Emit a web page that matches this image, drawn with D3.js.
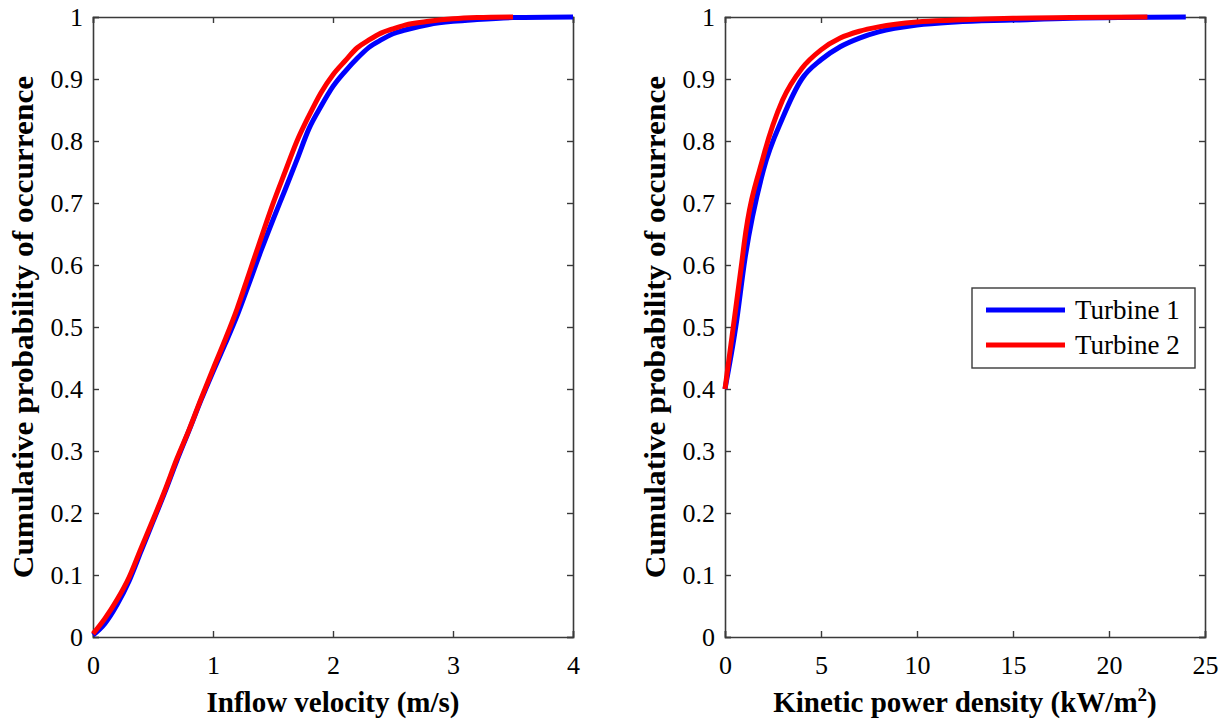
<!DOCTYPE html>
<html>
<head>
<meta charset="utf-8">
<script src="https://cdn.jsdelivr.net/npm/d3@7"></script>
<style>
  html, body { margin: 0; padding: 0; background: #fff; }
  svg { display: block; }
  text { font-family: "Liberation Serif", "Times New Roman", serif; fill: #000; }
</style>
</head>
<body>
<svg id="chart" width="1229" height="722"></svg>
<script>
// ---------- DATA ----------
const seriesNames = ["Turbine 1", "Turbine 2"];
const seriesColors = ["#0000ff", "#ff0000"];

// Left panel: inflow velocity (m/s) vs cumulative probability
const velT1 = [0, 0.1, 0.2, 0.3, 0.4, 0.5, 0.6, 0.7, 0.8, 0.9, 1.0, 1.1, 1.2, 1.3, 1.4, 1.5, 1.6, 1.7, 1.8, 1.9, 2.0, 2.1, 2.2, 2.3, 2.4, 2.5, 2.6, 2.8, 3.0, 3.2, 3.5, 4.0];
const cdfVelT1 = [0.003, 0.022, 0.052, 0.09, 0.138, 0.186, 0.234, 0.285, 0.333, 0.382, 0.428, 0.472, 0.518, 0.57, 0.623, 0.673, 0.721, 0.77, 0.82, 0.856, 0.888, 0.912, 0.933, 0.951, 0.963, 0.973, 0.979, 0.988, 0.993, 0.996, 0.999, 1.0];
const velT2 = [0, 0.1, 0.2, 0.3, 0.4, 0.5, 0.6, 0.7, 0.8, 0.9, 1.0, 1.1, 1.2, 1.3, 1.4, 1.5, 1.6, 1.7, 1.8, 1.9, 2.0, 2.1, 2.2, 2.3, 2.4, 2.5, 2.6, 2.8, 3.0, 3.2, 3.5];
const cdfVelT2 = [0.005, 0.03, 0.06, 0.096, 0.143, 0.189, 0.237, 0.288, 0.334, 0.384, 0.432, 0.479, 0.529, 0.586, 0.643, 0.699, 0.75, 0.80, 0.841, 0.878, 0.907, 0.929, 0.95, 0.963, 0.974, 0.981, 0.987, 0.993, 0.997, 0.999, 1.0];

// Right panel: kinetic power density (kW/m^2) vs cumulative probability
const powT1 = [0, 0.56, 1.04, 2, 3, 4, 5, 6, 7, 8, 10, 12, 15, 18, 24];
const cdfPowT1 = [0.40, 0.50, 0.61, 0.753, 0.837, 0.90, 0.931, 0.952, 0.966, 0.976, 0.987, 0.992, 0.995, 0.998, 1.0];
const powT2 = [0, 0.43, 0.87, 1, 2, 3, 4, 5, 6, 7, 8, 10, 12, 15, 18, 22];
const cdfPowT2 = [0.40, 0.50, 0.603, 0.635, 0.775, 0.866, 0.917, 0.947, 0.966, 0.977, 0.984, 0.992, 0.995, 0.998, 0.999, 1.0];

const yTicks = [0, 0.1, 0.2, 0.3, 0.4, 0.5, 0.6, 0.7, 0.8, 0.9, 1];
const velTicks = [0, 1, 2, 3, 4];
const powTicks = [0, 5, 10, 15, 20, 25];
const yTitle = "Cumulative probability of occurrence";

// ---------- DRAW ----------
const svg = d3.select("#chart");
const plotTop = 17, plotBottom = 637, plotW = 480;
const axisColor = "#3a3a3a";

function panel(opts) {
  const x = d3.scaleLinear().domain(opts.xDomain).range([opts.left, opts.left + plotW]);
  const y = d3.scaleLinear().domain([0, 1]).range([plotBottom, plotTop]);
  const g = svg.append("g");

  // Axes
  const bottomAxis = d3.axisBottom(x).tickValues(opts.xTicks).tickSize(-6).tickPadding(19)
    .tickFormat(d3.format("d"));
  const topAxis = d3.axisTop(x).tickValues(opts.xTicks).tickSize(-6).tickFormat("");
  const leftAxis = d3.axisLeft(y).tickValues(yTicks).tickSize(-6).tickPadding(10)
    .tickFormat(d => d === 0 || d === 1 ? String(d) : d3.format(".1f")(d));
  const rightAxis = d3.axisRight(y).tickValues(yTicks).tickSize(-6).tickFormat("");

  const gb = g.append("g").attr("transform", `translate(0,${plotBottom})`).call(bottomAxis);
  const gt = g.append("g").attr("transform", `translate(0,${plotTop})`).call(topAxis);
  const gl = g.append("g").attr("transform", `translate(${opts.left},0)`).call(leftAxis);
  const gr = g.append("g").attr("transform", `translate(${opts.left + plotW},0)`).call(rightAxis);
  [gb, gt, gl, gr].forEach(a => {
    a.select(".domain").attr("stroke", axisColor).attr("stroke-width", 1.6);
    a.selectAll(".tick line").attr("stroke", axisColor).attr("stroke-width", 1.4);
    a.selectAll("text").attr("font-family", "Liberation Serif, serif").attr("font-size", 26).attr("fill", "#000");
  });

  // Lines
  const line = d3.line().x(d => x(d[0])).y(d => y(d[1])).curve(d3.curveMonotoneX);
  opts.series.forEach((s, i) => {
    g.append("path")
      .datum(d3.zip(s.x, s.y))
      .attr("fill", "none")
      .attr("stroke", seriesColors[i])
      .attr("stroke-width", 5)
      .attr("stroke-linejoin", "round")
      .attr("d", line);
  });

  // X title
  const xt = g.append("text")
    .attr("x", opts.left + plotW / 2)
    .attr("y", 712)
    .attr("text-anchor", "middle")
    .attr("font-weight", "bold")
    .attr("font-size", 29);
  opts.xTitle(xt);

  // Y title
  g.append("text")
    .attr("transform", `translate(${opts.left - 60},${(plotTop + plotBottom) / 2}) rotate(-90) scale(1.08,1)`)
    .attr("text-anchor", "middle")
    .attr("font-weight", "bold")
    .attr("font-size", 29)
    .text(yTitle);

  return { x, y, g };
}

panel({
  left: 93,
  xDomain: [0, 4],
  xTicks: velTicks,
  series: [{ x: velT1, y: cdfVelT1 }, { x: velT2, y: cdfVelT2 }],
  xTitle: t => t.text("Inflow velocity (m/s)")
});

panel({
  left: 725,
  xDomain: [0, 25],
  xTicks: powTicks,
  series: [{ x: powT1, y: cdfPowT1 }, { x: powT2, y: cdfPowT2 }],
  xTitle: t => {
    t.append("tspan").text("Kinetic power density (kW/m");
    t.append("tspan").attr("font-size", 19).attr("dy", -11).text("2");
    t.append("tspan").attr("dy", 11).text(")");
  }
});

// Legend
const lg = svg.append("g");
lg.append("rect").attr("x", 972).attr("y", 288).attr("width", 223).attr("height", 80)
  .attr("fill", "#fff").attr("stroke", axisColor).attr("stroke-width", 1.4);
seriesNames.forEach((name, i) => {
  const cy = 310 + i * 35;
  lg.append("line").attr("x1", 986).attr("x2", 1065).attr("y1", cy).attr("y2", cy)
    .attr("stroke", seriesColors[i]).attr("stroke-width", 5);
  lg.append("text").attr("x", 1075).attr("y", cy + 9).attr("font-size", 27).text(name);
});
</script>
</body>
</html>
